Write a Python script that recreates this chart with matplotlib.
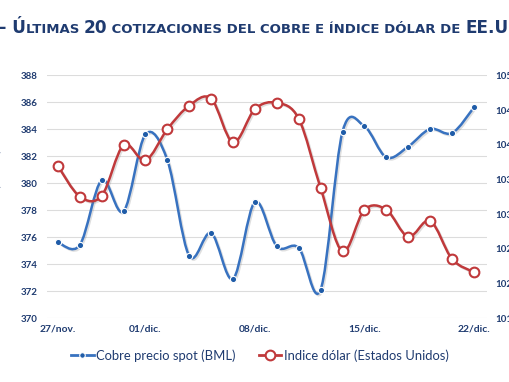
import numpy as np
import matplotlib.pyplot as plt
from matplotlib.path import Path
from matplotlib.patches import PathPatch
from matplotlib.lines import Line2D
import matplotlib.patheffects as pe

# data
dates = ['27/nov.', '28/nov.', '29/nov.', '30/nov.', '01/dic.', '04/dic.', '05/dic.',
         '06/dic.', '07/dic.', '08/dic.', '11/dic.', '12/dic.', '13/dic.', '14/dic.',
         '15/dic.', '18/dic.', '19/dic.', '20/dic.', '21/dic.', '22/dic.']
cobre = [375.6, 375.4, 380.2, 377.9, 383.6, 381.7, 374.6, 376.3, 372.9, 378.6,
         375.3, 375.2, 372.1, 383.8, 384.2, 381.9, 382.7, 384.0, 383.7, 385.6]
dolar = [103.69, 103.25, 103.26, 103.99, 103.77, 104.22, 104.56, 104.66, 104.03, 104.51,
         104.60, 104.37, 103.37, 102.46, 103.06, 103.06, 102.67, 102.90, 102.35, 102.16]
shown_ticks = [0, 4, 9, 14, 19]

navy = '#1F3B70'
blue = '#3872C0'
blue_dark = '#1F5CA8'
red = '#C0393B'


def smooth_path(xs, ys):
    # bezier path through the points, like excel's "smoothed line"
    pts = np.column_stack([xs, ys])
    n = len(pts)
    verts = [pts[0]]
    codes = [Path.MOVETO]
    for i in range(n - 1):
        p0 = pts[i - 1] if i > 0 else pts[i]
        p1 = pts[i]
        p2 = pts[i + 1]
        p3 = pts[i + 2] if i + 2 < n else pts[i + 1]
        c1 = p1 + (p2 - p0) / 6.0
        c2 = p2 - (p3 - p1) / 6.0
        verts += [c1, c2, p2]
        codes += [Path.CURVE4] * 3
    return Path(verts, codes)


fig = plt.figure(figsize=(5.1, 3.82), dpi=100)
ax = fig.add_axes([0.092, 0.1675, 0.863, 0.6361])
ax2 = ax.twinx()

x = np.arange(len(dates))
shadow = [pe.SimpleLineShadow(offset=(1, -1), shadow_color='gray', alpha=0.25), pe.Normal()]

p1 = PathPatch(smooth_path(x, cobre), fill=False, edgecolor=blue, lw=1.8,
               transform=ax.transData, zorder=3, path_effects=shadow)
ax.add_patch(p1)
ax.plot(x, cobre, ls='none', marker='o', ms=4.5, mfc=blue_dark, mec='white', mew=0.8, zorder=4)

p2 = PathPatch(smooth_path(x, dolar), fill=False, edgecolor=red, lw=1.8,
               transform=ax2.transData, zorder=3, path_effects=shadow)
ax2.add_patch(p2)
ax2.plot(x, dolar, ls='none', marker='o', ms=7, mfc='white', mec=red, mew=1.5, zorder=4)

ax.set_xlim(-0.5, 19.6)
ax.set_ylim(370, 388)
ax.set_yticks(np.arange(370, 389, 2))
ax2.set_ylim(101.5, 105.0)
ax2.set_yticks(np.arange(101.5, 105.01, 0.5))
ax2.set_yticklabels([f'{v:.1f}'.replace('.', ',') for v in np.arange(101.5, 105.01, 0.5)])

ax.set_xticks(shown_ticks)
ax.set_xticklabels([dates[i] for i in shown_ticks])

ax.grid(axis='y', color='#DCDCDC', lw=0.8)
ax.set_axisbelow(True)
for a in (ax, ax2):
    for s in a.spines.values():
        s.set_visible(False)
    a.tick_params(length=0, colors=navy, labelsize=7)
    for t in a.get_yticklabels():
        t.set_fontweight('bold')
        t.set_family('Lato')
for t in ax.get_xticklabels():
    t.set_fontweight('bold')
    t.set_family('Lato')
    t.set_fontsize(7.4)
ax.tick_params(axis='y', pad=7)
ax.tick_params(axis='x', pad=5)
ax2.tick_params(axis='y', pad=6)

ax.set_ylabel('Cobre (US¢/lb)', color=navy, fontsize=7.5, fontweight='bold', family='Lato')
ax.yaxis.set_label_coords(-0.1, 0.55)

handles = [
    Line2D([], [], color=blue, lw=2, marker='o', ms=4, mfc=blue_dark, mec='white', mew=0.8),
    Line2D([], [], color=red, lw=2, marker='o', ms=7, mfc='white', mec=red, mew=1.5),
]
fig.legend(handles, ['Cobre precio spot (BML)', 'Indice dólar (Estados Unidos)'],
           loc='center', bbox_to_anchor=(0.51, 0.07), ncol=2, frameon=False,
           handlelength=1.7, handletextpad=0.2, columnspacing=1.8,
           prop={'family': 'Lato', 'size': 9.4}, labelcolor=navy)

# title in small caps, drawn piece by piece, cut at both figure edges
pieces = [('– Ú', 12.2), ('LTIMAS ', 9.5), ('20', 12.2),
          (' COTIZACIONES DEL COBRE E ÍNDICE DÓLAR DE ', 9.5), ('EE.UU.', 12.2)]
fig.canvas.draw()
r = fig.canvas.get_renderer()
xpos = -2.0
for txt, size in pieces:
    t = fig.text(xpos / 510, 1 - 33 / 382, txt, fontsize=size, fontweight='bold',
                 color=navy, family='DejaVu Sans', va='baseline', ha='left')
    bb = t.get_window_extent(renderer=r)
    xpos += bb.width

fig.savefig('out.png', dpi=100)
